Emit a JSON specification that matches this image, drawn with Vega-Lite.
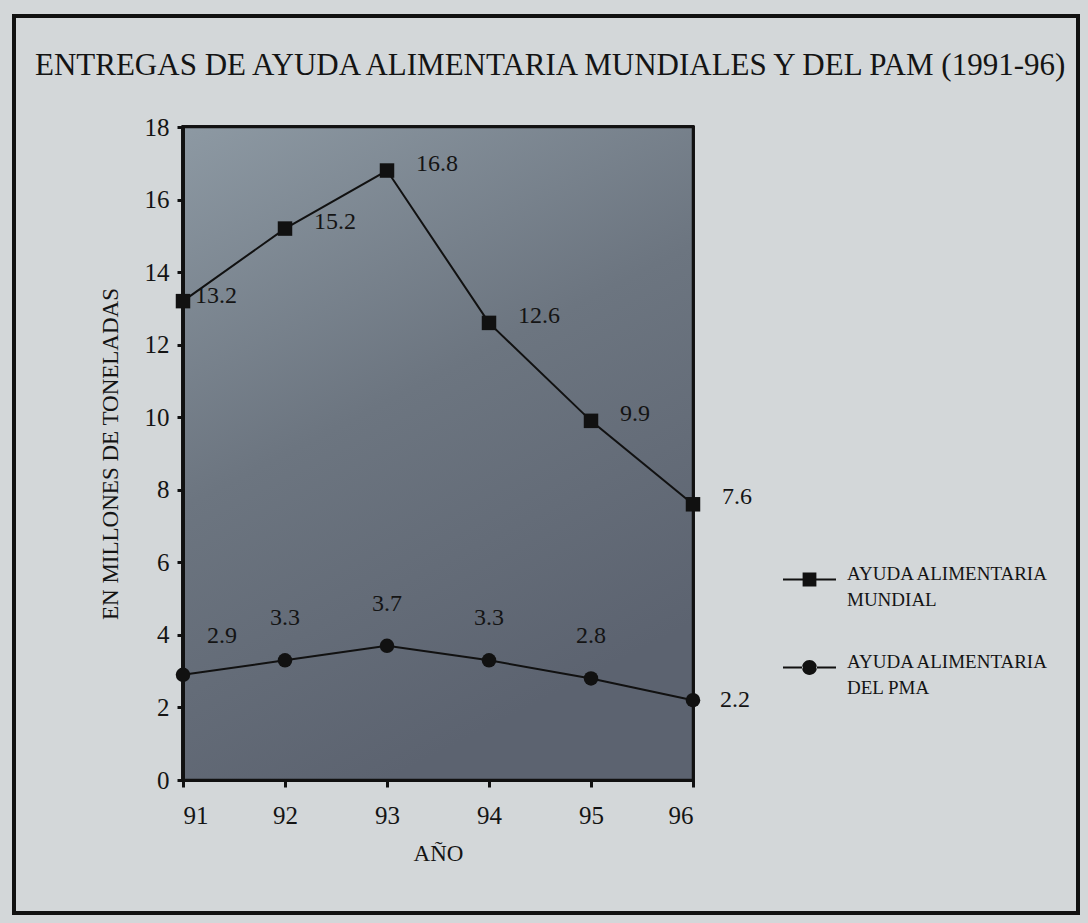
{
  "$schema": "https://vega.github.io/schema/vega-lite/v6.json",
  "autosize": "none",
  "padding": {"left": 14, "top": 16, "right": 10, "bottom": 10},
  "width": 1064,
  "height": 897,
  "background": "#d3d7d9",
  "config": {
    "view": {"stroke": "#111111", "strokeWidth": 4, "fill": "#d3d7d9"},
    "font": "Liberation Serif",
    "style": {"guide-label": {"lineHeight": 26}}
  },
  "title": {
    "text": "ENTREGAS DE AYUDA ALIMENTARIA MUNDIALES Y DEL PAM (1991-96)",
    "anchor": "start",
    "frame": "group",
    "orient": "top",
    "baseline": "alphabetic",
    "offset": 0,
    "dx": 21,
    "dy": 90,
    "fontSize": 31,
    "fontWeight": "normal",
    "font": "Liberation Serif",
    "color": "#141414"
  },
  "data": {
    "values": [
      {"year": 91, "value": 13.2, "series": "Ayuda alimentaria mundial"},
      {"year": 92, "value": 15.2, "series": "Ayuda alimentaria mundial"},
      {"year": 93, "value": 16.8, "series": "Ayuda alimentaria mundial"},
      {"year": 94, "value": 12.6, "series": "Ayuda alimentaria mundial"},
      {"year": 95, "value": 9.9, "series": "Ayuda alimentaria mundial"},
      {"year": 96, "value": 7.6, "series": "Ayuda alimentaria mundial"},
      {"year": 91, "value": 2.9, "series": "Ayuda alimentaria del PMA"},
      {"year": 92, "value": 3.3, "series": "Ayuda alimentaria del PMA"},
      {"year": 93, "value": 3.7, "series": "Ayuda alimentaria del PMA"},
      {"year": 94, "value": 3.3, "series": "Ayuda alimentaria del PMA"},
      {"year": 95, "value": 2.8, "series": "Ayuda alimentaria del PMA"},
      {"year": 96, "value": 2.2, "series": "Ayuda alimentaria del PMA"}
    ]
  },
  "encoding": {
    "x": {
      "field": "year",
      "type": "quantitative",
      "scale": {"domain": [91, 96], "range": [169, 679], "nice": false, "zero": false},
      "axis": {
        "title": "AÑO",
        "offset": -133,
        "values": [91, 92, 93, 94, 95, 96],
        "format": "d",
        "grid": false,
        "domainColor": "#111111",
        "domainWidth": 3,
        "tickColor": "#111111",
        "tickWidth": 3,
        "tickSize": 7,
        "labelFont": "Liberation Serif",
        "labelFontSize": 25,
        "labelColor": "#141414",
        "labelPadding": 16,
        "titleFont": "Liberation Serif",
        "titleFontSize": 23,
        "titleFontWeight": "normal",
        "titleColor": "#141414",
        "titlePadding": 14,
        "zindex": 2
      }
    },
    "y": {
      "field": "value",
      "type": "quantitative",
      "scale": {"domain": [0, 18], "range": [764, 111], "nice": false},
      "axis": {
        "title": "EN MILLONES DE TONELADAS",
        "offset": -169,
        "values": [0, 2, 4, 6, 8, 10, 12, 14, 16, 18],
        "grid": false,
        "domainColor": "#111111",
        "domainWidth": 3,
        "tickColor": "#111111",
        "tickWidth": 3,
        "tickSize": 6,
        "labelFont": "Liberation Serif",
        "labelFontSize": 25,
        "labelColor": "#141414",
        "labelPadding": 8,
        "titleFont": "Liberation Serif",
        "titleFontSize": 23,
        "titleFontWeight": "normal",
        "titleColor": "#141414",
        "titlePadding": 22,
        "zindex": 2
      }
    }
  },
  "layer": [
    {
      "mark": {
        "type": "rect",
        "stroke": "#111111",
        "strokeWidth": 2.5,
        "color": {
          "gradient": "linear",
          "x1": 0, "y1": 0, "x2": 0.4, "y2": 1,
          "stops": [
            {"offset": 0, "color": "#8d99a3"},
            {"offset": 0.5, "color": "#6c7580"},
            {"offset": 1, "color": "#5c6370"}
          ]
        }
      },
      "encoding": {
        "x": {"datum": 91},
        "x2": {"datum": 96},
        "y": {"datum": 0},
        "y2": {"datum": 18}
      }
    },
    {
      "mark": {"type": "line", "color": "#111111", "strokeWidth": 2},
      "encoding": {"detail": {"field": "series"}}
    },
    {
      "transform": [{"filter": "datum.series == 'Ayuda alimentaria mundial'"}],
      "mark": {"type": "point", "shape": "square", "filled": true, "color": "#111111", "size": 210, "opacity": 1}
    },
    {
      "transform": [{"filter": "datum.series == 'Ayuda alimentaria del PMA'"}],
      "mark": {"type": "point", "shape": "circle", "filled": true, "color": "#111111", "size": 210, "opacity": 1}
    },
    {
      "mark": {"type": "point", "filled": true, "color": "#111111", "size": 0, "opacity": 1},
      "encoding": {
        "shape": {
          "field": "series",
          "scale": {
            "domain": ["Ayuda alimentaria mundial", "Ayuda alimentaria del PMA"],
            "range": [
              "M-1,-0.04H-0.2V0.04H-1ZM0.2,-0.04H1V0.04H0.2ZM-0.26,-0.26H0.26V0.26H-0.26Z",
              "M-1,-0.04H-0.25V0.04H-1ZM0.25,-0.04H1V0.04H0.25ZM-0.28,0A0.28,0.28 0 1,0 0.28,0A0.28,0.28 0 1,0 -0.28,0Z"
            ]
          },
          "legend": {
            "title": null,
            "orient": "none",
            "legendX": 768,
            "legendY": 536,
            "padding": 0,
            "symbolSize": 2809,
            "symbolFillColor": "#111111",
            "labelFont": "Liberation Serif",
            "labelFontSize": 19,
            "labelColor": "#141414",
            "labelBaseline": "alphabetic",
            "labelOffset": 10,
            "labelLimit": 400,
            "rowPadding": 30,
            "labelExpr": "datum.label == 'Ayuda alimentaria mundial' ? ['AYUDA ALIMENTARIA', 'MUNDIAL'] : ['AYUDA ALIMENTARIA', 'DEL PMA']"
          }
        }
      }
    },
    {
      "transform": [{"filter": "datum.series == 'Ayuda alimentaria mundial' && datum.year == 91"}],
      "mark": {"type": "text", "align": "left", "baseline": "middle", "dx": 12, "dy": -5, "fontSize": 24, "color": "#141414", "font": "Liberation Serif"},
      "encoding": {"text": {"field": "value", "type": "quantitative", "format": ".1f"}}
    },
    {
      "transform": [{"filter": "datum.series == 'Ayuda alimentaria mundial' && datum.year > 91"}],
      "mark": {"type": "text", "align": "left", "baseline": "middle", "dx": 29, "dy": -7, "fontSize": 24, "color": "#141414", "font": "Liberation Serif"},
      "encoding": {"text": {"field": "value", "type": "quantitative", "format": ".1f"}}
    },
    {
      "transform": [{"filter": "datum.series == 'Ayuda alimentaria del PMA' && datum.year == 91"}],
      "mark": {"type": "text", "align": "center", "baseline": "middle", "dx": 39, "dy": -39, "fontSize": 24, "color": "#141414", "font": "Liberation Serif"},
      "encoding": {"text": {"field": "value", "type": "quantitative", "format": ".1f"}}
    },
    {
      "transform": [{"filter": "datum.series == 'Ayuda alimentaria del PMA' && datum.year > 91 && datum.year < 96"}],
      "mark": {"type": "text", "align": "center", "baseline": "middle", "dy": -42, "fontSize": 24, "color": "#141414", "font": "Liberation Serif"},
      "encoding": {"text": {"field": "value", "type": "quantitative", "format": ".1f"}}
    },
    {
      "transform": [{"filter": "datum.series == 'Ayuda alimentaria del PMA' && datum.year == 96"}],
      "mark": {"type": "text", "align": "left", "baseline": "middle", "dx": 27, "dy": 0, "fontSize": 24, "color": "#141414", "font": "Liberation Serif"},
      "encoding": {"text": {"field": "value", "type": "quantitative", "format": ".1f"}}
    }
  ]
}
